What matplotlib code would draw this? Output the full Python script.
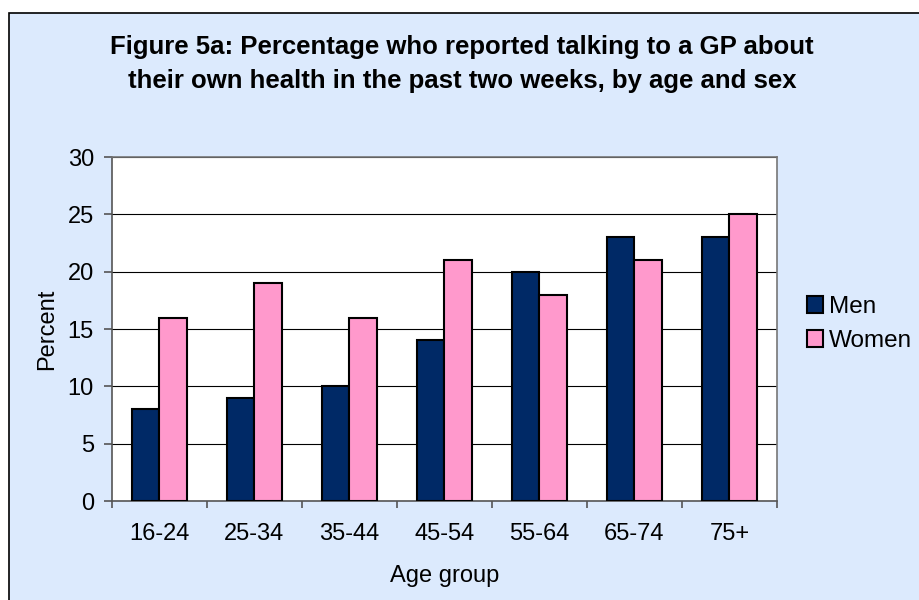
import numpy as np
import matplotlib.pyplot as plt
from matplotlib.patches import Rectangle

plt.rcParams['font.family'] = ['Liberation Sans', 'DejaVu Sans']

age_groups = ['16-24', '25-34', '35-44', '45-54', '55-64', '65-74', '75+']
men = [8, 9, 10, 14, 20, 23, 23]
women = [16, 19, 16, 21, 18, 21, 25]

bg = '#DCEAFD'
navy = '#002966'
pink = '#FF99CC'
fs = 17

fig = plt.figure(figsize=(9.2, 6), dpi=100)
fig.patch.set_facecolor('white')
# chart area with border (cut off at right/bottom like the source)
fig.patches.append(Rectangle((9 / 920, -0.05), 1.0, 1 - 13 / 600 + 0.05,
                             transform=fig.transFigure, facecolor=bg,
                             edgecolor='black', linewidth=1.2, zorder=-1))

ax = fig.add_axes([112 / 920, 1 - 501 / 600, 665 / 920, 344 / 600])
ax.set_facecolor('white')

x = np.arange(len(age_groups))
w = 0.29
ax.bar(x - w / 2, men, w, color=navy, edgecolor='black', linewidth=1.5,
       label='Men', zorder=3)
ax.bar(x + w / 2, women, w, color=pink, edgecolor='black', linewidth=1.5,
       label='Women', zorder=3)

ax.set_xlim(-0.5, len(age_groups) - 0.5)
ax.set_ylim(0, 30)
ax.set_yticks(range(0, 31, 5))
ax.yaxis.grid(True, color='black', linewidth=0.8, zorder=0)

ax.set_xticks(x)
ax.set_xticklabels(age_groups)
ax.tick_params(axis='x', length=0, labelsize=fs, pad=16)
ax.set_xticks(np.arange(-0.5, len(age_groups)), minor=True)
ax.tick_params(axis='x', which='minor', length=5, color='#555555', width=1.2)
ax.tick_params(axis='y', length=6, labelsize=fs, color='#555555', width=1.2,
               pad=7)

for s in ['top', 'right']:
    ax.spines[s].set_color('#777777')
    ax.spines[s].set_linewidth(1.2)
for s in ['left', 'bottom']:
    ax.spines[s].set_color('#555555')
    ax.spines[s].set_linewidth(1.2)

ax.set_ylabel('Percent', fontsize=fs, labelpad=7)
ax.set_xlabel('Age group', fontsize=fs, labelpad=14)

fig.text(462 / 920, 1 - 47 / 600,
         'Figure 5a: Percentage who reported talking to a GP about',
         ha='center', va='center', fontsize=18.5, fontweight='bold')
fig.text(462 / 920, 1 - 81 / 600,
         'their own health in the past two weeks, by age and sex',
         ha='center', va='center', fontsize=18.5, fontweight='bold')

leg = fig.legend(loc='center left', bbox_to_anchor=(807 / 920, 1 - 324 / 600),
                 frameon=False, fontsize=17.5, handlelength=0.67,
                 handleheight=0.67, handletextpad=0.25, labelspacing=0.5,
                 borderaxespad=0, borderpad=0)

fig.savefig('out.png', dpi=100, facecolor=fig.get_facecolor())
